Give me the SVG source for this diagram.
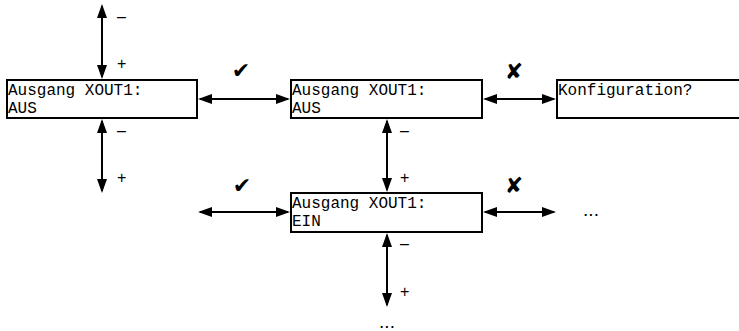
<svg xmlns="http://www.w3.org/2000/svg" width="739" height="331" viewBox="0 0 739 331">
<style>
.box{fill:#fff;stroke:#000;stroke-width:2}
.mono{font-family:"Liberation Mono","Courier New",monospace;font-size:16px;fill:#000}
.conn{stroke:#000;stroke-width:2;fill:none;marker-start:url(#ah);marker-end:url(#ah)}
.sign{font-family:"Liberation Sans",Arial,sans-serif;font-size:16px;fill:#000}
.sym{font-family:"DejaVu Sans",sans-serif;font-size:22px;fill:#000;text-anchor:middle}
.dots{font-family:"Liberation Sans",Arial,sans-serif;font-size:19px;fill:#000;text-anchor:middle}
</style>
<defs>
<marker id="ah" viewBox="0 0 14 10" refX="12" refY="5" markerWidth="14" markerHeight="10" markerUnits="userSpaceOnUse" orient="auto-start-reverse">
<path d="M0,0 L14,5 L0,10 z" fill="#000"/>
</marker>
</defs>
<rect width="739" height="331" fill="#fff"/>
<g id="connectors">
<line class="conn" x1="102" y1="6" x2="102" y2="77"/>
<line class="conn" x1="102" y1="121" x2="102" y2="191"/>
<line class="conn" x1="200" y1="99" x2="288" y2="99"/>
<line class="conn" x1="485" y1="99" x2="554" y2="99"/>
<line class="conn" x1="387" y1="121" x2="387" y2="190"/>
<line class="conn" x1="200" y1="212" x2="288" y2="212"/>
<line class="conn" x1="485" y1="212" x2="554" y2="212"/>
<line class="conn" x1="387" y1="235" x2="387" y2="305"/>
</g>
<g id="labels">
<text class="sign" x="117" y="22">–</text>
<text class="sign" x="117" y="69">+</text>
<text class="sign" x="117" y="136">–</text>
<text class="sign" x="117" y="183">+</text>
<text class="sign" x="400" y="136">–</text>
<text class="sign" x="400" y="183">+</text>
<text class="sign" x="400" y="249">–</text>
<text class="sign" x="400" y="297">+</text>
<text class="sym" x="241" y="78">✔</text>
<text class="sym" x="514" y="79">✘</text>
<text class="sym" x="242" y="193">✔</text>
<text class="sym" x="514" y="193">✘</text>
<text class="dots" x="591" y="216">...</text>
<text class="dots" x="387" y="328">...</text>
</g>
<g id="node1">
<rect class="box" x="7" y="80" width="190" height="38"/>
<text class="mono" x="8" y="95">Ausgang XOUT1:</text>
<text class="mono" x="8" y="113">AUS</text>
</g>
<g id="node2">
<rect class="box" x="291" y="80" width="191" height="38"/>
<text class="mono" x="292" y="95">Ausgang XOUT1:</text>
<text class="mono" x="292" y="113">AUS</text>
</g>
<g id="node3">
<rect class="box" x="557" y="80" width="191" height="38"/>
<text class="mono" x="558" y="95">Konfiguration?</text>
</g>
<g id="node4">
<rect class="box" x="291" y="193" width="191" height="39"/>
<text class="mono" x="292" y="208">Ausgang XOUT1:</text>
<text class="mono" x="292" y="226">EIN</text>
</g>
</svg>
